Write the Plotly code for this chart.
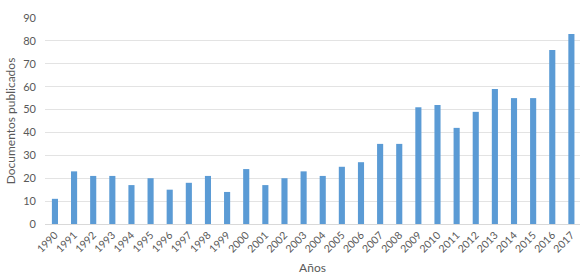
import plotly.graph_objects as go

years = [str(y) for y in range(1990, 2018)]
docs = [11, 23, 21, 21, 17, 20, 15, 18, 21, 14, 24, 17, 20, 23, 21, 25, 27,
        35, 35, 51, 52, 42, 49, 59, 55, 55, 76, 83]
y_ticks = list(range(0, 91, 10))

fig = go.Figure(go.Bar(x=years, y=docs, marker_color="#5B9BD5",
                       marker_line_width=0))
fig.update_layout(
    width=580, height=280,
    margin=dict(l=45, r=0, t=18, b=56),
    plot_bgcolor="white", paper_bgcolor="white",
    bargap=0.68,
    font=dict(family="Lato, Open Sans, sans-serif", size=11, color="#595959"),
    showlegend=False,
)
fig.update_xaxes(type="category", range=[-0.52, 27.45], tickangle=-45,
                 showline=True, linecolor="#D9D9D9", ticks="",
                 title=dict(text="Años", font=dict(size=12), standoff=9),
                 tickfont=dict(size=10.5))
fig.update_yaxes(range=[0, 90], tickvals=y_ticks, gridcolor="#E3E3E3",
                 zeroline=False, ticks="", ticklabelstandoff=8,
                 title=dict(text="Documentos publicados", font=dict(size=12),
                            standoff=5),
                 tickfont=dict(size=11))
fig.write_html("out.html")
